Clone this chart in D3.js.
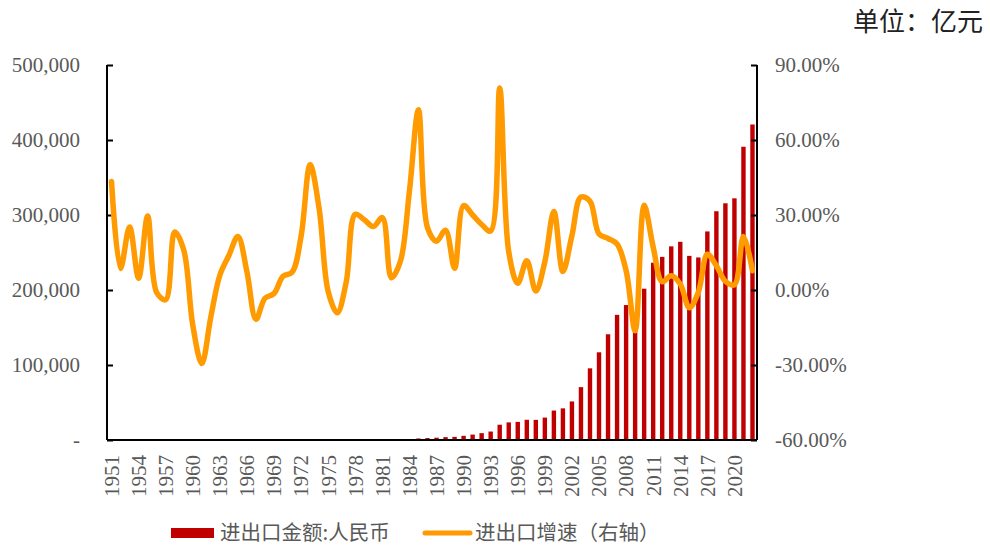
<html>
<head>
    <meta charset="UTF-8" />
    <script src="https://d3js.org/d3.v7.min.js"></script>
    <style>
        body { margin: 0; background: #fff; }
        .axis text { font-family: "Liberation Serif", "Times New Roman", serif; font-size: 21px; fill: #595959; }
        .axis line, .axis path { stroke: #000; stroke-width: 2; }
        .cjk { font-family: "Noto Sans CJK SC", sans-serif; }
    </style>
</head>
<body>
    <svg id="svg" width="990" height="545"></svg>

    <script>
        // years 1951 - 2022
        const years = d3.range(1951, 2023);

        // 进出口金额 (亿元)
        const tradeValue = [
            59.5, 64.6, 80.9, 84.7, 109.8, 108.7, 104.5, 128.7, 149.3, 128.4,
            90.7, 80.9, 85.7, 97.5, 118.4, 127.1, 112.2, 108.5, 107.0, 112.9,
            120.9, 146.9, 220.5, 292.2, 290.4, 264.1, 272.5, 355.0, 454.6, 570.0,
            735.3, 771.3, 860.1, 1201.0, 2066.7, 2580.4, 3084.2, 3821.8, 4155.9, 5560.1,
            7225.8, 9119.6, 11271.0, 20381.9, 23499.9, 24133.8, 26967.2, 26849.7, 29896.2, 39273.2,
            42183.6, 51378.2, 70483.5, 95539.1, 116921.8, 140974.0, 166863.7, 179921.5, 150648.1, 201722.1,
            236402.0, 244160.2, 258168.9, 264241.8, 245502.9, 243386.5, 278099.2, 305010.1, 315627.3, 322215.2,
            391008.5, 420678.0
        ];

        // 进出口增速 (%)
        const tradeGrowth = [
            43.4, 8.6, 25.2, 4.7, 29.6, -1.0, -3.9, 23.2, 16.0, -14.0,
            -29.4, -10.8, 5.9, 13.8, 21.4, 7.3, -11.7, -3.3, -1.4, 5.5,
            7.1, 21.5, 50.1, 32.5, -0.6, -9.1, 3.2, 30.3, 28.1, 25.4,
            29.0, 4.9, 11.5, 39.6, 72.1, 24.9, 19.5, 23.9, 8.7, 33.8,
            30.0, 26.2, 23.6, 80.8, 15.3, 2.7, 11.7, -0.4, 11.3, 31.4,
            7.4, 21.8, 37.2, 35.5, 22.4, 20.6, 18.4, 7.8, -16.3, 33.9,
            17.2, 3.3, 5.7, 2.4, -7.1, -0.9, 14.3, 9.7, 3.5, 2.1,
            21.4, 7.7
        ];

        const leftTicks = [0, 100000, 200000, 300000, 400000, 500000];
        const rightTicks = [-60, -30, 0, 30, 60, 90];
        const xLabelYears = years.filter((d, i) => i % 3 === 0);

        const seriesNames = ["进出口金额:人民币", "进出口增速（右轴）"];

        const svg = d3.select("svg#svg");
        const margin = {top: 65, right: 233, bottom: 105, left: 107};
        const width = 990, height = 545;

        const x = d3.scaleBand().domain(years).range([margin.left, width - margin.right]).padding(0);
        const yLeft = d3.scaleLinear().domain([0, 500000]).range([height - margin.bottom, margin.top]);
        const yRight = d3.scaleLinear().domain([-60, 90]).range([height - margin.bottom, margin.top]);

        // bars
        const barW = 4.4;
        svg.append("g").selectAll("rect.bar").data(years)
            .join("rect")
            .attr("class", "bar")
            .attr("x", d => x(d) + x.bandwidth() / 2 - barW / 2)
            .attr("width", barW)
            .attr("y", (d, i) => yLeft(tradeValue[i]))
            .attr("height", (d, i) => yLeft(0) - yLeft(tradeValue[i]))
            .attr("fill", "#C00000");

        // left axis
        const leftAxis = d3.axisLeft(yLeft).tickValues(leftTicks)
            .tickSize(-6).tickPadding(27)
            .tickFormat(d => d === 0 ? "-" : d3.format(",")(d));
        svg.append("g").attr("class", "axis")
            .attr("transform", "translate(" + margin.left + ",0)")
            .call(leftAxis)
            .call(g => g.select(".domain").attr("d", "M0," + yLeft(0) + "V" + yLeft(500000)));

        // right axis
        const rightAxis = d3.axisRight(yRight).tickValues(rightTicks)
            .tickSize(-6).tickPadding(18)
            .tickFormat(d => d.toFixed(2) + "%");
        svg.append("g").attr("class", "axis")
            .attr("transform", "translate(" + (width - margin.right) + ",0)")
            .call(rightAxis)
            .call(g => g.select(".domain").attr("d", "M0," + yRight(-60) + "V" + yRight(90)));

        // bottom axis
        const bottomAxis = d3.axisBottom(x).tickValues(xLabelYears).tickSize(0).tickPadding(0);
        const xg = svg.append("g").attr("class", "axis")
            .attr("transform", "translate(0," + yLeft(0) + ")")
            .call(bottomAxis);
        xg.select(".domain").attr("d", "M" + margin.left + ",0H" + (width - margin.right));
        xg.selectAll(".tick text")
            .attr("text-anchor", "end")
            .attr("x", 0).attr("y", 0)
            .attr("dy", "0.35em")
            .attr("transform", "translate(0,15) rotate(-90)");

        // growth line
        const line = d3.line()
            .x((d, i) => x(years[i]) + x.bandwidth() / 2)
            .y(d => yRight(d))
            .curve(d3.curveCatmullRom.alpha(0.5));
        svg.append("path")
            .datum(tradeGrowth)
            .attr("d", line)
            .attr("fill", "none")
            .attr("stroke", "#FF9A00")
            .attr("stroke-width", 5.5)
            .attr("stroke-linejoin", "round")
            .attr("stroke-linecap", "round");

        // unit label
        svg.append("text").attr("class", "cjk")
            .attr("x", 983).attr("y", 31)
            .attr("text-anchor", "end")
            .attr("font-size", 26)
            .attr("fill", "#222")
            .text("单位：亿元");

        // legend
        const legend = svg.append("g").attr("class", "cjk");
        legend.append("rect")
            .attr("x", 171).attr("y", 528).attr("width", 43).attr("height", 10)
            .attr("fill", "#C00000");
        legend.append("text")
            .attr("x", 220).attr("y", 533).attr("dy", "0.35em")
            .attr("font-size", 20.5).attr("fill", "#595959")
            .text(seriesNames[0]);
        legend.append("line")
            .attr("x1", 425).attr("x2", 470).attr("y1", 533).attr("y2", 533)
            .attr("stroke", "#FF9A00").attr("stroke-width", 5).attr("stroke-linecap", "round");
        legend.append("text")
            .attr("x", 475).attr("y", 533).attr("dy", "0.35em")
            .attr("font-size", 20.5).attr("fill", "#595959")
            .text(seriesNames[1]);
    </script>
</body>
</html>
